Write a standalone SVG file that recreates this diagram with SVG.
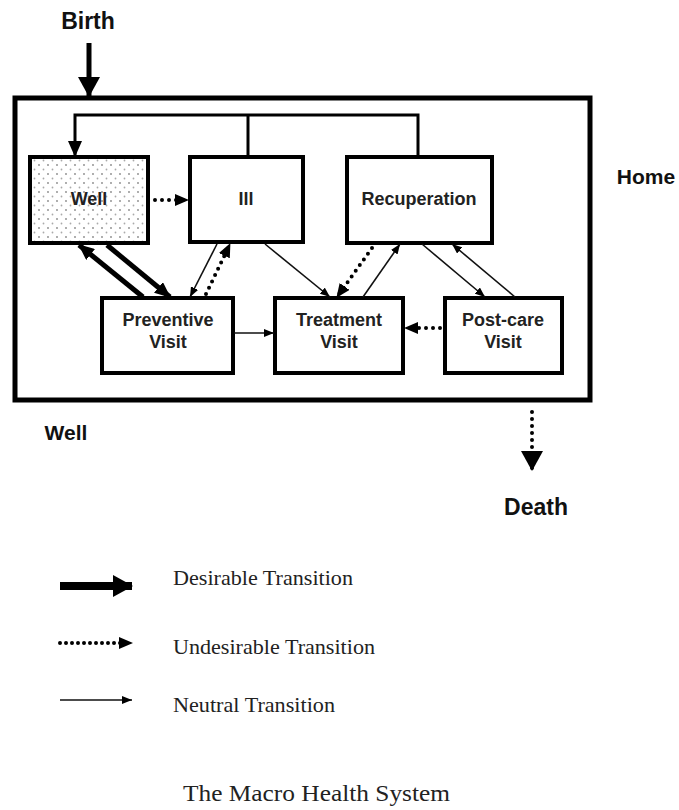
<svg xmlns="http://www.w3.org/2000/svg" width="679" height="810" viewBox="0 0 679 810">
<style>
.box{fill:#fff;stroke:#000;stroke-width:4}
.lbl{font-family:"Liberation Sans",Arial,sans-serif;font-weight:bold;font-size:18px;fill:#222;text-anchor:middle}
.big{font-family:"Liberation Sans",Arial,sans-serif;font-weight:bold;font-size:21px;fill:#111}
.leg{font-family:"Liberation Serif","Times New Roman",serif;font-size:21px;fill:#222}
.thick{stroke:#000;stroke-width:5;fill:none}
.thin{stroke:#111;stroke-width:1.6;fill:none}
.dot{stroke:#000;stroke-width:4;fill:none;stroke-dasharray:0 7;stroke-linecap:round}
</style>
<defs>
<pattern id="dots" width="9" height="9" patternUnits="userSpaceOnUse">
<circle cx="3" cy="3" r="0.9" fill="#888"/>
<circle cx="7.5" cy="7.5" r="0.9" fill="#aaa"/>
</pattern>
<marker id="mBig" markerUnits="userSpaceOnUse" markerWidth="20" markerHeight="22" refX="19" refY="11" orient="auto" viewBox="0 0 20 22">
<path d="M0,0 L20,11 L0,22 z" fill="#000"/>
</marker>
<marker id="mThick" markerUnits="userSpaceOnUse" markerWidth="16" markerHeight="14" refX="15" refY="7" orient="auto" viewBox="0 0 16 14">
<path d="M0,0 L16,7 L0,14 z" fill="#000"/>
</marker>
<marker id="mDot" markerUnits="userSpaceOnUse" markerWidth="14" markerHeight="12" refX="13" refY="6" orient="auto" viewBox="0 0 14 12">
<path d="M0,0 L14,6 L0,12 z" fill="#000"/>
</marker>
<marker id="mThin" markerUnits="userSpaceOnUse" markerWidth="10" markerHeight="8" refX="10" refY="4" orient="auto" viewBox="0 0 10 8">
<path d="M0,0 L10,4 L0,8 z" fill="#000"/>
</marker>
<marker id="mFeed" markerUnits="userSpaceOnUse" markerWidth="16" markerHeight="14" refX="15" refY="7" orient="auto" viewBox="0 0 16 14">
<path d="M0,0 L16,7 L0,14 z" fill="#000"/>
</marker>
</defs>
<rect width="679" height="810" fill="#fff"/>

<g id="frame">
<rect x="15" y="98" width="575" height="302" fill="none" stroke="#000" stroke-width="5"/>
</g>

<g id="labels">
<text class="big" x="88" y="29" text-anchor="middle" style="font-size:23px">Birth</text>
<text class="big" x="646" y="184" text-anchor="middle">Home</text>
<text class="big" x="66" y="440" text-anchor="middle">Well</text>
<text class="big" x="536" y="515" text-anchor="middle" style="font-size:23px">Death</text>
</g>

<g id="node-well">
<rect class="box" x="30" y="157" width="118" height="86" style="fill:url(#dots)"/>
<text class="lbl" x="89" y="205">Well</text>
</g>
<g id="node-ill">
<rect class="box" x="190" y="157" width="113" height="85"/>
<text class="lbl" x="246" y="205">Ill</text>
</g>
<g id="node-recuperation">
<rect class="box" x="347" y="157" width="145" height="86"/>
<text class="lbl" x="419" y="205">Recuperation</text>
</g>
<g id="node-preventive">
<rect class="box" x="102" y="298" width="131" height="75"/>
<text class="lbl" x="168" y="326">Preventive</text>
<text class="lbl" x="168" y="348">Visit</text>
</g>
<g id="node-treatment">
<rect class="box" x="275" y="298" width="128" height="75"/>
<text class="lbl" x="339" y="326">Treatment</text>
<text class="lbl" x="339" y="348">Visit</text>
</g>
<g id="node-postcare">
<rect class="box" x="445" y="298" width="117" height="75"/>
<text class="lbl" x="503" y="326">Post-care</text>
<text class="lbl" x="503" y="348">Visit</text>
</g>

<g id="connectors">
<line class="thick" x1="89" y1="43" x2="89" y2="96" marker-end="url(#mBig)"/>
<polyline fill="none" stroke="#000" stroke-width="3" points="418,157 418,115 75,115 75,156" marker-end="url(#mFeed)"/>
<line stroke="#000" stroke-width="3" x1="248" y1="115" x2="248" y2="157"/>
<line class="dot" x1="155" y1="200" x2="188" y2="200" marker-end="url(#mDot)"/>
<line class="thick" x1="107" y1="245" x2="170" y2="297" marker-end="url(#mThick)"/>
<line class="thick" x1="143" y1="297" x2="79" y2="245" marker-end="url(#mThick)"/>
<line class="thin" x1="217" y1="244" x2="190" y2="297" marker-end="url(#mThin)"/>
<line class="dot" x1="206" y1="294" x2="230" y2="244" marker-end="url(#mDot)"/>
<line class="thin" x1="265" y1="244" x2="330" y2="297" marker-end="url(#mThin)"/>
<line class="dot" x1="372" y1="248" x2="337" y2="297" marker-end="url(#mDot)"/>
<line class="thin" x1="363" y1="297" x2="400" y2="244" marker-end="url(#mThin)"/>
<line class="thin" x1="422" y1="244" x2="485" y2="297" marker-end="url(#mThin)"/>
<line class="thin" x1="515" y1="297" x2="452" y2="244" marker-end="url(#mThin)"/>
<line class="thin" x1="234" y1="333" x2="274" y2="333" marker-end="url(#mThin)"/>
<line class="dot" x1="440" y1="328" x2="405" y2="328" marker-end="url(#mDot)"/>
<line class="dot" x1="532" y1="412" x2="532" y2="470" marker-end="url(#mBig)"/>
</g>

<g id="legend">
<line class="thick" x1="60" y1="586" x2="132" y2="586" style="stroke-width:8" marker-end="url(#mBig)"/>
<text class="leg" x="173" y="585" textLength="180" lengthAdjust="spacingAndGlyphs">Desirable Transition</text>
<line class="dot" x1="60" y1="643" x2="132" y2="643" style="stroke-dasharray:0 6" marker-end="url(#mDot)"/>
<text class="leg" x="173" y="654" textLength="202" lengthAdjust="spacingAndGlyphs">Undesirable Transition</text>
<line class="thin" x1="60" y1="700" x2="132" y2="700" marker-end="url(#mThin)"/>
<text class="leg" x="173" y="712" textLength="162" lengthAdjust="spacingAndGlyphs">Neutral Transition</text>
</g>

<g id="title">
<text class="leg" x="183" y="801" style="font-size:24px" textLength="267" lengthAdjust="spacingAndGlyphs">The Macro Health System</text>
</g>
</svg>
